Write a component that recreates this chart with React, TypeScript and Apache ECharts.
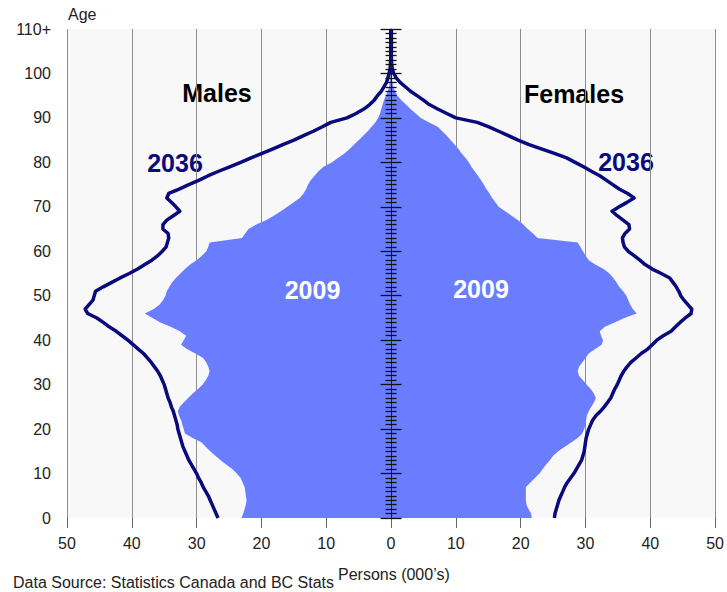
import React, { useEffect, useRef } from "react";
import * as echarts from "echarts";

const ages: string[] = Array.from({ length: 111 }, (_, i) => String(i));
const ageTickLabels = ["0", "10", "20", "30", "40", "50", "60", "70", "80", "90", "100", "110+"];
const xMin = -50;
const xMax = 50;
const xStep = 10;

// Males, 2009 (thousands), ages 0..110
const males2009 = [
  23.1, 22.8, 22.6, 22.4, 22.3, 22.4, 22.5, 22.6, 22.9, 23.2,
  23.8, 24.5, 25.4, 26.3, 27.1, 27.9, 28.6, 29.2, 30.6, 31.8,
  32.0, 32.2, 32.4, 32.7, 32.9, 32.6, 32.0, 31.3, 30.6, 29.8,
  29.1, 28.6, 28.2, 28.0, 28.2, 28.5, 29.0, 30.2, 31.5, 32.4,
  32.0, 31.6, 32.6, 34.0, 35.6, 36.8, 38.0, 36.6, 35.7, 35.2,
  34.8, 34.6, 34.2, 33.8, 33.2, 32.5, 31.8, 31.0, 30.0, 29.2,
  28.5, 28.2, 28.0, 23.0, 22.5, 22.0, 20.8, 19.3, 18.1, 17.0,
  16.0, 15.0, 14.1, 13.5, 13.1, 12.8, 12.4, 11.8, 11.2, 10.4,
  9.1, 8.2, 7.2, 6.4, 5.7, 5.0, 4.3, 3.6, 3.0, 2.4,
  2.0, 1.7, 1.5, 1.3, 1.1, 0.8, 0.5, 0.3, 0.2, 0.15,
  0.1, 0.05, 0.05, 0.05, 0.05, 0.05, 0.05, 0.05, 0.05, 0.05, 0.05,
];

// Females, 2009
const females2009 = [
  21.7, 21.6, 21.2, 20.9, 20.8, 20.8, 20.8, 20.8, 21.5, 22.2,
  22.9, 23.4, 23.9, 24.5, 25.0, 25.8, 26.8, 27.8, 28.8, 29.5,
  29.8, 30.0, 30.1, 30.2, 30.5, 30.9, 31.3, 31.6, 31.3, 30.8,
  30.2, 29.6, 29.0, 28.8, 29.0, 29.5, 30.0, 30.5, 31.5, 32.5,
  32.7, 32.4, 32.2, 33.0, 34.5, 36.0, 37.9, 37.3, 36.9, 36.6,
  36.3, 35.8, 35.2, 34.8, 34.3, 33.7, 32.8, 31.5, 30.5, 30.0,
  29.6, 29.2, 28.8, 22.6, 21.9, 21.1, 20.4, 19.6, 18.6, 17.6,
  16.6, 16.1, 15.6, 15.2, 14.7, 14.3, 13.9, 13.4, 12.9, 12.4,
  12.0, 11.5, 10.9, 10.4, 9.8, 9.2, 8.6, 7.9, 7.2, 5.8,
  4.6, 3.8, 3.0, 2.3, 1.6, 1.0, 0.6, 0.35, 0.2, 0.15,
  0.1, 0.05, 0.05, 0.05, 0.05, 0.05, 0.05, 0.05, 0.05, 0.05, 0.05,
];

// Males, 2036 projection
const males2036 = [
  26.7, 27.0, 27.3, 27.6, 27.9, 28.2, 28.6, 29.0, 29.3, 29.7,
  30.0, 30.4, 30.8, 31.2, 31.5, 31.8, 32.1, 32.3, 32.5, 32.7,
  32.9, 33.0, 33.2, 33.4, 33.6, 33.9, 34.1, 34.4, 34.6, 34.8,
  35.0, 35.3, 35.6, 36.0, 36.5, 37.0, 37.6, 38.2, 39.0, 39.8,
  40.6, 41.5, 42.4, 43.5, 44.4, 45.4, 46.8, 47.2, 46.6, 46.0,
  45.8, 45.6, 44.4, 43.1, 41.8, 40.4, 39.1, 38.0, 36.9, 36.0,
  35.3, 34.7, 34.5, 34.3, 34.4, 35.2, 35.2, 34.6, 33.6, 32.6,
  33.2, 33.9, 34.6, 34.3, 32.7, 31.2, 29.6, 28.2, 26.6, 24.9,
  23.2, 21.6, 19.9, 18.3, 16.7, 15.0, 13.5, 12.0, 10.6, 9.3,
  6.8, 5.4, 4.2, 3.3, 2.6, 2.1, 1.5, 1.1, 0.7, 0.5,
  0.3, 0.15, 0.1, 0.05, 0.05, 0.05, 0.05, 0.05, 0.05, 0.05, 0.05,
];

// Females, 2036 projection
const females2036 = [
  25.2, 25.3, 25.5, 25.7, 25.9, 26.2, 26.5, 26.8, 27.2, 27.7,
  28.2, 28.6, 29.0, 29.4, 29.6, 29.8, 29.9, 30.0, 30.1, 30.3,
  30.5, 30.8, 31.1, 31.6, 32.3, 32.9, 33.4, 33.9, 34.2, 34.5,
  34.9, 35.2, 35.5, 35.9, 36.4, 37.0, 37.8, 38.6, 39.6, 40.3,
  41.0, 42.0, 43.2, 43.9, 44.6, 45.4, 46.3, 46.4, 45.8, 45.2,
  44.7, 44.4, 44.0, 43.5, 43.0, 41.7, 40.3, 39.2, 38.4, 37.5,
  36.6, 36.0, 35.8, 35.7, 36.1, 36.8, 36.7, 35.8, 34.9, 34.1,
  35.2, 36.4, 37.5, 36.5, 35.2, 34.2, 33.2, 32.2, 30.9, 29.7,
  28.4, 27.1, 25.2, 23.3, 21.3, 19.6, 18.1, 16.6, 15.1, 13.3,
  10.0, 8.6, 7.2, 5.9, 5.0, 4.0, 3.0, 2.2, 1.4, 0.8,
  0.4, 0.2, 0.1, 0.05, 0.05, 0.05, 0.05, 0.05, 0.05, 0.05, 0.05,
];

const FONT = "'Liberation Sans', Arial, sans-serif";
const AREA = "#6a7dff";
const NAVY = "#0a0a7c";

export default function App() {
  const ref = useRef<HTMLDivElement>(null);

  useEffect(() => {
    if (!ref.current) return;
    const chart = echarts.init(ref.current, null, { renderer: "svg" });

    const centerAxisBase = {
      type: "value" as const,
      min: 0,
      max: 110,
      interval: 10,
      position: "left" as const,
      z: 10,
      axisLine: { show: true, onZero: true, onZeroAxisIndex: 0, lineStyle: { color: "#222", width: 1 } },
      axisLabel: { show: false },
      splitLine: { show: false },
      minorTick: { show: true, splitNumber: 10, length: 5.5, lineStyle: { color: "#111", width: 1.3 } },
      minorSplitLine: { show: false },
    };

    const option: any = {
      animation: false,
      textStyle: { fontFamily: FONT },
      grid: {
        left: 67,
        right: 11,
        top: 29,
        bottom: 74,
        show: true,
        backgroundColor: "#f8f8f8",
        borderWidth: 0,
      },
      xAxis: [
        {
          type: "value",
          min: xMin,
          max: xMax,
          interval: xStep,
          position: "bottom",
          axisLine: { show: false, onZero: false },
          axisTick: { show: true, length: 10, lineStyle: { color: "#666", width: 1 } },
          axisLabel: {
            fontSize: 16,
            color: "#222",
            margin: 17,
            fontFamily: FONT,
            formatter: (v: number) => String(Math.abs(v)),
          },
          splitLine: { show: true, lineStyle: { color: "#8c8c8c", width: 1 } },
        },
        {
          type: "value",
          min: xMin,
          max: xMax,
          interval: xStep,
          show: false,
          axisLine: { onZero: false },
        },
      ],
      yAxis: [
        {
          type: "category",
          data: ages,
          boundaryGap: false,
          position: "left",
          axisLine: { show: false, onZero: false },
          axisTick: { show: false },
          splitLine: { show: false },
          axisLabel: {
            interval: 9,
            fontSize: 16,
            color: "#222",
            margin: 16,
            fontFamily: FONT,
            formatter: (v: string) => ageTickLabels[Math.round(Number(v) / 10)] ?? v,
          },
        },
        {
          ...centerAxisBase,
          axisTick: { show: true, inside: false, length: 10.5, lineStyle: { color: "#111", width: 1.3 } },
        },
        {
          ...centerAxisBase,
          axisLine: { show: false, onZero: true, onZeroAxisIndex: 0 },
          axisTick: { show: true, inside: true, length: 10.5, lineStyle: { color: "#111", width: 1.3 } },
        },
      ],
      series: [
        {
          name: "Males 2009",
          type: "line",
          xAxisIndex: 0,
          yAxisIndex: 0,
          data: males2009.map((v) => -v),
          symbol: "none",
          lineStyle: { width: 0 },
          areaStyle: { color: AREA, opacity: 1 },
          z: 2,
        },
        {
          name: "Females 2009",
          type: "line",
          xAxisIndex: 0,
          yAxisIndex: 0,
          data: females2009,
          symbol: "none",
          lineStyle: { width: 0 },
          areaStyle: { color: AREA, opacity: 1 },
          z: 2,
        },
        {
          name: "Males 2036",
          type: "line",
          xAxisIndex: 0,
          yAxisIndex: 0,
          data: males2036.map((v) => -v),
          symbol: "none",
          lineStyle: { width: 3.5, color: NAVY, join: "round" },
          z: 3,
        },
        {
          name: "Females 2036",
          type: "line",
          xAxisIndex: 0,
          yAxisIndex: 0,
          data: females2036,
          symbol: "none",
          lineStyle: { width: 3.5, color: NAVY, join: "round" },
          z: 3,
        },
      ],
      graphic: [
        {
          type: "text",
          left: 68,
          top: 6,
          style: { text: "Age", fontSize: 16, fill: "#222", fontFamily: FONT },
        },
        {
          type: "text",
          x: 217,
          y: 93,
          style: { text: "Males", fontSize: 25, fontWeight: "bold", fill: "#000", fontFamily: FONT, align: "center", verticalAlign: "middle", textAlign: "center", textVerticalAlign: "middle" },
        },
        {
          type: "text",
          x: 574,
          y: 94,
          style: { text: "Females", fontSize: 25, fontWeight: "bold", fill: "#000", fontFamily: FONT, align: "center", verticalAlign: "middle", textAlign: "center", textVerticalAlign: "middle" },
        },
        {
          type: "text",
          x: 175,
          y: 162.5,
          style: { text: "2036", fontSize: 25, fontWeight: "bold", fill: NAVY, fontFamily: FONT, align: "center", verticalAlign: "middle", textAlign: "center", textVerticalAlign: "middle" },
        },
        {
          type: "text",
          x: 626,
          y: 162,
          style: { text: "2036", fontSize: 25, fontWeight: "bold", fill: NAVY, fontFamily: FONT, align: "center", verticalAlign: "middle", textAlign: "center", textVerticalAlign: "middle" },
        },
        {
          type: "text",
          x: 312.5,
          y: 290,
          z: 20,
          style: { text: "2009", fontSize: 25, fontWeight: "bold", fill: "#fff", fontFamily: FONT, align: "center", verticalAlign: "middle", textAlign: "center", textVerticalAlign: "middle" },
        },
        {
          type: "text",
          x: 481,
          y: 289,
          z: 20,
          style: { text: "2009", fontSize: 25, fontWeight: "bold", fill: "#fff", fontFamily: FONT, align: "center", verticalAlign: "middle", textAlign: "center", textVerticalAlign: "middle" },
        },
        {
          type: "text",
          x: 338,
          y: 574,
          style: { text: "Persons (000\u2019s)", fontSize: 16, fill: "#222", fontFamily: FONT, align: "left", verticalAlign: "middle", textAlign: "left", textVerticalAlign: "middle" },
        },
        {
          type: "text",
          x: 13,
          y: 582,
          style: { text: "Data Source: Statistics Canada and BC Stats", fontSize: 16, fill: "#222", fontFamily: FONT, align: "left", verticalAlign: "middle", textAlign: "left", textVerticalAlign: "middle" },
        },
      ],
    };

    chart.setOption(option);
    return () => chart.dispose();
  }, []);

  return (
    <div
      ref={ref}
      style={{ position: "absolute", left: 0, top: 0, width: 727, height: 592 }}
    />
  );
}
